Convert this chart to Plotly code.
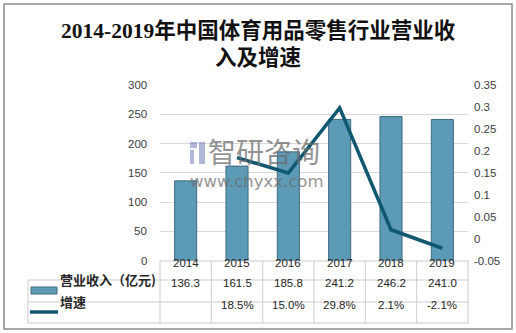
import plotly.graph_objects as go

years = ["2014", "2015", "2016", "2017", "2018", "2019"]
revenue = [136.3, 161.5, 185.8, 241.2, 246.2, 241.0]
growth = [None, 0.185, 0.150, 0.298, 0.021, -0.021]
revenue_labels = ["136.3", "161.5", "185.8", "241.2", "246.2", "241.0"]
growth_labels = ["", "18.5%", "15.0%", "29.8%", "2.1%", "-2.1%"]
left_ticks = [0, 50, 100, 150, 200, 250, 300]
right_ticks = [-0.05, 0, 0.05, 0.1, 0.15, 0.2, 0.25, 0.3, 0.35]
right_tick_text = ["-0.05", "0", "0.05", "0.1", "0.15", "0.2", "0.25", "0.3", "0.35"]
series_names = ["营业收入（亿元)", "增速"]
title_lines = ["2014-2019年中国体育用品零售行业营业收", "入及增速"]

W, H = 516, 333
L, R, T, B = 160, 468, 85, 261  # plot area in pixels

def px(x):
    return (x - L) / (R - L)

def py(y):
    return (B - y) / (B - T)

def col_edge(i):
    return L + (R - L) * i / len(years)

xs = list(range(len(years)))
BAR_COLOR = "#5c9ab6"
LINE_COLOR = "#0f5870"
GRID = "#d9d9d9"
TLINE = "#cccccc"
TXT = "#262626"

fig = go.Figure()
fig.add_trace(go.Bar(x=xs, y=revenue, width=0.43, marker=dict(color=BAR_COLOR, line=dict(color="#3d6b80", width=1)),
                     name=series_names[0], showlegend=False))
fig.add_trace(go.Scatter(x=xs, y=growth, yaxis="y2", mode="lines", line=dict(color=LINE_COLOR, width=3.5),
                         name=series_names[1], showlegend=False, connectgaps=False))

shapes = []
shapes.append(dict(type="rect", xref="paper", yref="paper", x0=px(4), x1=px(512), y0=py(4), y1=py(329),
                   line=dict(color="#8c8c8c", width=1.5), layer="below"))
tl = dict(color=TLINE, width=1)
for yy, x0 in [(261, L), (280, 28), (302, 28), (323, 28)]:
    shapes.append(dict(type="line", xref="paper", yref="paper", x0=px(x0), x1=px(R + 1), y0=py(yy), y1=py(yy), line=tl))
shapes.append(dict(type="line", xref="paper", yref="paper", x0=px(28), x1=px(28), y0=py(280), y1=py(323), line=tl))
for i in range(len(years) + 1):
    xe = px(col_edge(i))
    shapes.append(dict(type="line", xref="paper", yref="paper", x0=xe, x1=xe, y0=py(261), y1=py(323), line=tl))
shapes.append(dict(type="rect", xref="paper", yref="paper", x0=px(31), x1=px(57), y0=py(287), y1=py(294),
                   fillcolor=BAR_COLOR, line=dict(color="#3d6b80", width=1)))
shapes.append(dict(type="line", xref="paper", yref="paper", x0=px(30), x1=px(58), y0=py(312), y1=py(312),
                   line=dict(color=LINE_COLOR, width=3.5)))
wm = "rgba(125,135,190,0.6)"
shapes.append(dict(type="rect", xref="paper", yref="paper", x0=px(190), x1=px(197), y0=py(142), y1=py(148),
                   fillcolor=wm, line=dict(width=0)))
shapes.append(dict(type="rect", xref="paper", yref="paper", x0=px(190), x1=px(194), y0=py(150), y1=py(164),
                   fillcolor=wm, line=dict(width=0)))
shapes.append(dict(type="rect", xref="paper", yref="paper", x0=px(199), x1=px(205), y0=py(142), y1=py(164),
                   fillcolor=wm, line=dict(width=0)))

tick_font = dict(family="Liberation Sans", size=11.5, color="#404040")
ann = []
for i, t in enumerate(title_lines):
    ann.append(dict(text=f"<b>{t}</b>", xref="paper", yref="paper", x=px(258), y=py([31, 58][i]),
                    showarrow=False, xanchor="center", yanchor="middle",
                    font=dict(family="Liberation Serif, Noto Sans CJK SC", size=21.5, color="#111")))
# left axis tick labels placed on the y scale
for v in left_ticks:
    ann.append(dict(text=str(v), xref="paper", yref="y", x=px(149), y=v, xanchor="right", yanchor="middle",
                    showarrow=False, font=tick_font))
cell_font = dict(family="Liberation Sans", size=11.5, color=TXT)
for i in range(len(years)):
    ann.append(dict(text=years[i], xref="x", yref="paper", x=i, y=py(270.5), showarrow=False, font=cell_font))
    ann.append(dict(text=revenue_labels[i], xref="x", yref="paper", x=i, y=py(291), showarrow=False, font=cell_font))
    ann.append(dict(text=growth_labels[i], xref="x", yref="paper", x=i, y=py(312.5), showarrow=False, font=cell_font))
lab_font = dict(family="Noto Sans CJK SC", size=13, color=TXT)
ann.append(dict(text=f"<b>{series_names[0]}</b>", xref="paper", yref="paper", x=px(58), y=py(290.5), xanchor="left",
                showarrow=False, font=lab_font))
ann.append(dict(text=f"<b>{series_names[1]}</b>", xref="paper", yref="paper", x=px(58), y=py(312.5), xanchor="left",
                showarrow=False, font=lab_font))
ann.append(dict(text="智研咨询", xref="paper", yref="paper", x=px(206), y=py(151), xanchor="left", showarrow=False,
                font=dict(family="Noto Sans CJK SC", size=28, color="rgba(110,110,110,0.75)")))
ann.append(dict(text="www.chyxx.com", xref="paper", yref="paper", x=px(188), y=py(181), xanchor="left", showarrow=False,
                font=dict(family="DejaVu Sans", size=16.5, color="rgba(110,110,110,0.75)")))

fig.update_layout(
    width=W, height=H, margin=dict(l=L, r=W - R, t=T, b=H - B, autoexpand=False),
    paper_bgcolor="white", plot_bgcolor="white",
    shapes=shapes, annotations=ann,
    xaxis=dict(range=[-0.5, 5.5], showticklabels=False, showgrid=False, zeroline=False, showline=False, ticks="",
               automargin=False),
    yaxis=dict(range=[-0.6, 300], tickmode="array", tickvals=left_ticks, showticklabels=False, showgrid=True,
               gridcolor=GRID, gridwidth=1, zeroline=False, showline=False, ticks="", automargin=False),
    yaxis2=dict(range=[-0.05, 0.35], overlaying="y", side="right", tickmode="array", tickvals=right_ticks,
                ticktext=right_tick_text, showgrid=False, zeroline=False, showline=False, ticks="",
                tickfont=tick_font, ticklabelstandoff=5, automargin=False, ticklabeloverflow="allow"),
)
fig.write_html("out.html")
